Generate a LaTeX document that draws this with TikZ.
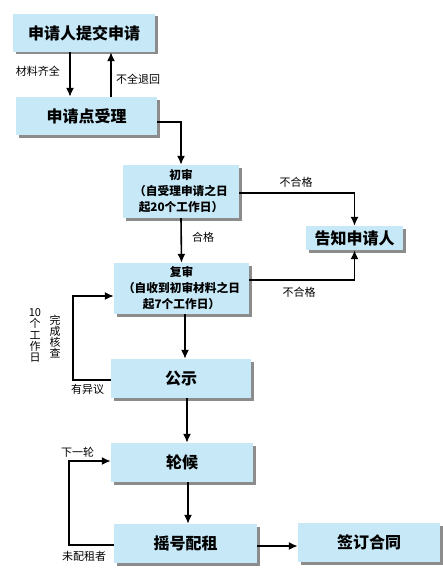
\documentclass[tikz,border=0pt]{standalone}
\usepackage{fontspec}
\setmainfont{Noto Sans CJK SC}
\usepackage{xcolor}
\definecolor{boxfill}{RGB}{198,232,247}
\definecolor{boxshade}{RGB}{140,140,140}
\usepackage{tikz}
\usetikzlibrary{arrows.meta,shadows,calc}
\tikzstyle{stage} = [
    rectangle, text centered,
    fill=boxfill,
    inner sep=0pt,
    font=\fontsize{16}{18}\selectfont\bfseries,
    drop shadow={shadow xshift=2.5pt, shadow yshift=-2.5pt, fill=boxshade, opacity=1},
]
\tikzstyle{review} = [
    stage,
    align=center,
    font=\fontsize{11.7}{16}\selectfont\bfseries,
]
\tikzstyle{note} = [
    inner sep=0pt,
    align=center,
    font=\fontsize{11}{11.2}\selectfont,
]
\tikzstyle{arrow} = [-{Latex[length=9pt,width=8pt]}, line width=1.6pt]
\tikzstyle{wire} = [line width=1.6pt]

\begin{document}
\begin{tikzpicture}[x=1pt,y=-1pt]
    \useasboundingbox (0,0) rectangle (442,586);
    % boxes
    \node (submit) at (84,33) [stage, minimum width=142pt, minimum height=38pt] {申请人提交申请};
    \node (accept) at (86.5,116) [stage, minimum width=141pt, minimum height=38pt] {申请点受理};
    \node (first) at (181,191.5) [review, minimum width=116pt, minimum height=53pt] {初审\\（自受理申请之日\\起20个工作日）};
    \node (notify) at (354.5,238) [stage, minimum width=97pt, minimum height=24pt] {告知申请人};
    \node (second) at (181.5,288.5) [review, minimum width=135pt, minimum height=51pt] {复审\\（自收到初审材料之日\\起7个工作日）};
    \node (publicity) at (181,378.5) [stage, minimum width=140pt, minimum height=39pt] {公示};
    \node (wait) at (182,462.5) [stage, minimum width=142pt, minimum height=39pt] {轮候};
    \node (lottery) at (185.5,543.5) [stage, minimum width=143pt, minimum height=39pt] {摇号配租};
    \node (contract) at (369,542.5) [stage, minimum width=142pt, minimum height=39pt] {签订合同};

    \coordinate (loopA) at (73,296);
    \coordinate (loopB) at (69,461);

    % arrows
    \draw [arrow] (submit.south -| 70,0) -- (accept.north -| 70,0);
    \draw [arrow] (accept.north -| 111,0) -- (submit.south -| 111,0);
    \draw [arrow] (accept.east |- 0,122) -| (first.north);
    \draw [arrow] (first.east |- 0,193) -| (notify.north);
    \draw [arrow] (first.south) -- (second.north);
    \draw [arrow] (second.east |- 0,280) -| (notify.south);
    \draw [arrow] (second.south -| 185,0) -- (publicity.north -| 185,0);
    \draw [arrow] (publicity.west |- 0,380) -| (loopA) -- (second.west |- loopA);
    \draw [arrow] (publicity.south -| 187,0) -- (wait.north -| 187,0);
    \draw [arrow] (wait.south -| 188,0) -- (lottery.north -| 188,0);
    \draw [arrow] (lottery.east |- 0,546) -- (contract.west |- 0,546);
    \draw [arrow] (lottery.west |- 0,545) -| (loopB) -- (wait.west |- loopB);

    % labels
    \node (enough) at (38,71) [note] {材料齐全};
    \node (back) at (138,79) [note] {不全退回};
    \node (failA) at (296,182) [note] {不合格};
    \node (pass) at (203,237) [note] {合格};
    \node (failB) at (299,292) [note] {不合格};
    \node (days) at (35,335.5) [note] {10\\个\\工\\作\\日};
    \node (verify) at (55,336.5) [note] {完\\成\\核\\查};
    \node (objection) at (87.5,389) [note] {有异议};
    \node (nextround) at (77.5,452) [note] {下一轮};
    \node (unassigned) at (84,556) [note] {未配租者};
\end{tikzpicture}
\end{document}
